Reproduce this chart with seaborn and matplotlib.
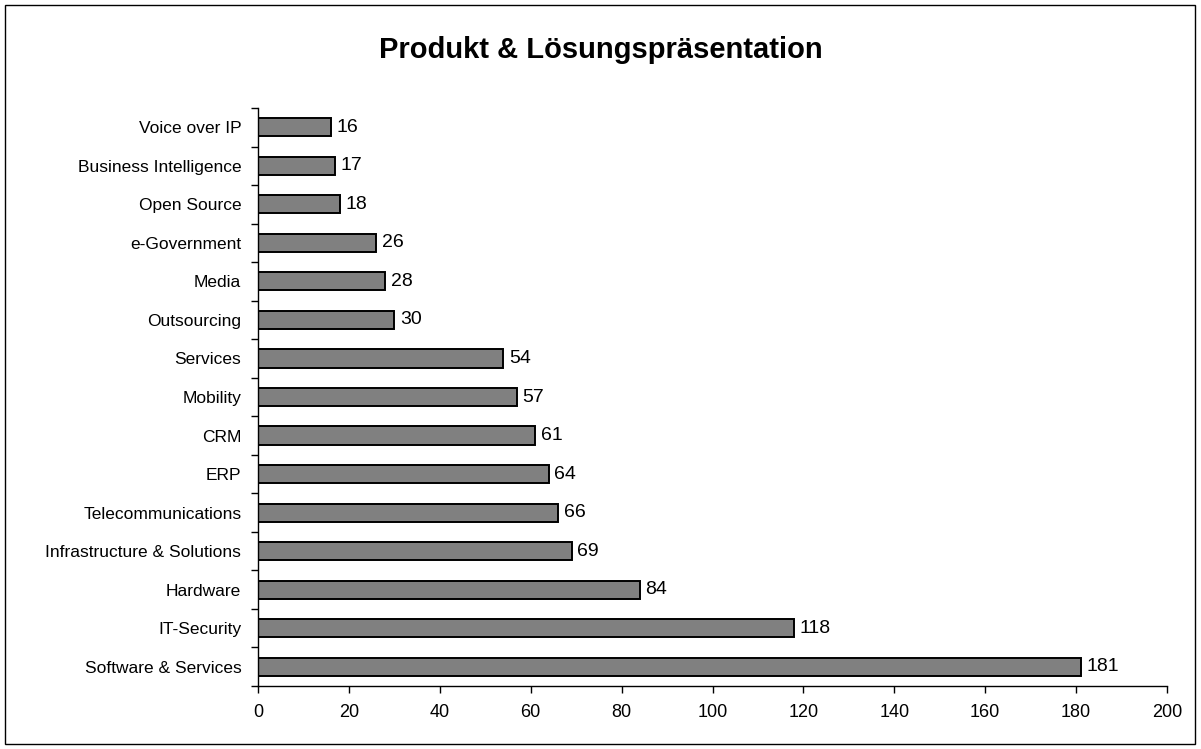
import matplotlib
matplotlib.use("Agg")
import matplotlib.pyplot as plt
import seaborn as sns
import pandas as pd
import numpy as np
from matplotlib.patches import Rectangle
from matplotlib.ticker import FixedLocator

categories = ["Voice over IP", "Business Intelligence", "Open Source", "e-Government",
              "Media", "Outsourcing", "Services", "Mobility", "CRM", "ERP",
              "Telecommunications", "Infrastructure & Solutions", "Hardware",
              "IT-Security", "Software & Services"]
values = [16, 17, 18, 26, 28, 30, 54, 57, 61, 64, 66, 69, 84, 118, 181]
x_ticks = [0, 20, 40, 60, 80, 100, 120, 140, 160, 180, 200]
title = "Produkt & Lösungspräsentation"

sns.set_style("white", {"xtick.bottom": True, "ytick.left": True})
plt.rcParams['font.family'] = ['Liberation Sans', 'DejaVu Sans']
plt.rcParams['text.color'] = 'black'
plt.rcParams['xtick.color'] = 'black'
plt.rcParams['ytick.color'] = 'black'
plt.rcParams['axes.labelcolor'] = 'black'

df = pd.DataFrame({"cat": categories, "val": values})

fig = plt.figure(figsize=(12.01, 7.49), dpi=100)
ax = fig.add_axes([258/1201, 1-686/749, (1167-258)/1201, (686-108)/749])

sns.barplot(data=df, y="cat", x="val", orient="h", color="#808080",
            edgecolor="black", linewidth=1.4, width=0.47, saturation=1, ax=ax)

ax.set_xlim(0, 200)
ax.set_ylim(len(categories)-0.5, -0.5)
ax.set_xticks(x_ticks)
ax.set_xticklabels([str(t) for t in x_ticks], fontsize=13)
ax.set_xlabel("")
ax.set_ylabel("")
ax.tick_params(axis="y", which="major", left=True, length=0, labelsize=12.5, pad=12, labelcolor="black")
ax.yaxis.set_minor_locator(FixedLocator(np.arange(-0.5, len(categories), 1.0)))
ax.tick_params(axis="y", which="minor", left=True, length=5, width=1, color="black", direction="out")
ax.tick_params(axis="x", which="major", bottom=True, length=5, width=1, color="black",
               direction="out", pad=8, labelcolor="black")
for s in ["top", "right"]:
    ax.spines[s].set_visible(False)
for s in ["left", "bottom"]:
    ax.spines[s].set_color("black")
    ax.spines[s].set_linewidth(1)

for c in ax.containers:
    ax.bar_label(c, labels=[str(v) for v in values], padding=4, fontsize=14, color="black")

fig.text(0.5, 1-50/749, title, ha="center", va="center", fontsize=21, fontweight="bold", color="black")
fig.patches.append(Rectangle((5/1201, 5/749), 1190/1201, 739/749, transform=fig.transFigure,
                             fill=False, edgecolor="black", linewidth=1))

fig.savefig("out.png", dpi=100)
